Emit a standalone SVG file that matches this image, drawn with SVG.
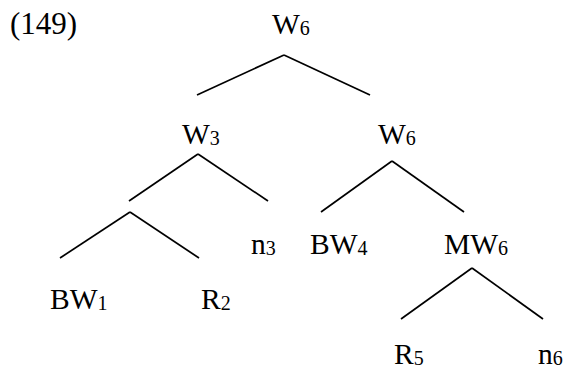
<svg xmlns="http://www.w3.org/2000/svg" width="568" height="372" viewBox="0 0 568 372">
<style>
text{font-family:"Liberation Serif","Times New Roman",serif;font-size:29.5px;fill:#000}
.s{font-size:20px}
.e line{stroke:#000;stroke-width:1.7;stroke-linecap:butt}
</style>
<rect width="568" height="372" fill="#fff"/>
<text id="label" x="10" y="34" style="font-size:31px">(149)</text>
<g id="n-root"><text x="272" y="34">W<tspan class="s" dy="1">6</tspan></text></g>
<g id="n-w3"><text x="182" y="144">W<tspan class="s" dy="1">3</tspan></text></g>
<g id="n-w6b"><text x="378" y="144">W<tspan class="s" dy="1">6</tspan></text></g>
<g id="n-inner"></g>
<g id="n-n3"><text x="251" y="254">n<tspan class="s" dy="1">3</tspan></text></g>
<g id="n-bw4"><text x="310" y="254">BW<tspan class="s" dy="1">4</tspan></text></g>
<g id="n-mw6"><text x="444" y="254">MW<tspan class="s" dy="1">6</tspan></text></g>
<g id="n-bw1"><text x="50" y="309">BW<tspan class="s" dy="1">1</tspan></text></g>
<g id="n-r2"><text x="201" y="309">R<tspan class="s" dy="1">2</tspan></text></g>
<g id="n-r5"><text x="394" y="364">R<tspan class="s" dy="1">5</tspan></text></g>
<g id="n-n6"><text x="538" y="364">n<tspan class="s" dy="1">6</tspan></text></g>
<g class="e" id="connectors">
<line x1="284" y1="55" x2="197" y2="95"/>
<line x1="284" y1="55" x2="370" y2="95"/>
<line x1="198" y1="154" x2="129" y2="201"/>
<line x1="198" y1="154" x2="268" y2="201"/>
<line x1="392" y1="161" x2="321" y2="212"/>
<line x1="392" y1="161" x2="464" y2="212"/>
<line x1="130" y1="212" x2="60" y2="258"/>
<line x1="130" y1="212" x2="199" y2="258"/>
<line x1="472" y1="268" x2="401" y2="319"/>
<line x1="472" y1="268" x2="543" y2="319"/>
</g>
</svg>
